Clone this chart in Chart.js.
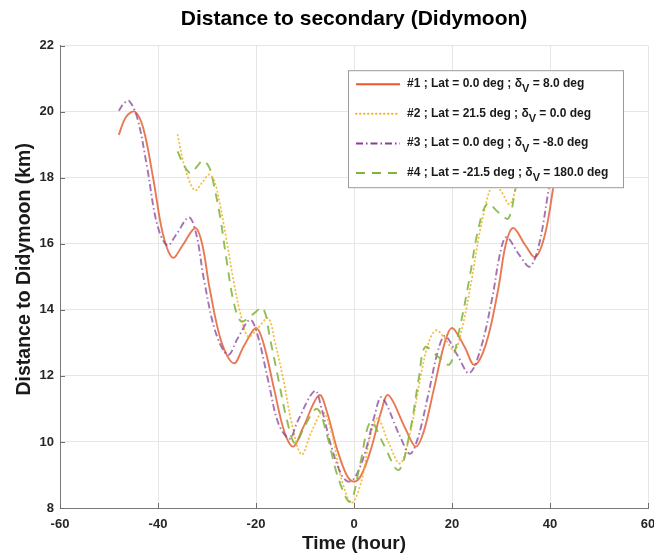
<!DOCTYPE html>
<html><head><meta charset="utf-8">
<script src="https://cdn.jsdelivr.net/npm/chart.js@4.4.1/dist/chart.umd.min.js"></script>
<style>html,body{margin:0;padding:0;background:#fff}#wrap{width:654px;height:555px}</style>
</head><body><div id="wrap"><canvas id="c" width="654" height="555"></canvas></div>
<script>
// ---------- data ----------
const chartTitle = 'Distance to secondary (Didymoon)';
const xAxisTitle = 'Time (hour)';
const yAxisTitle = 'Distance to Didymoon (km)';
const xTickValues = [-60, -40, -20, 0, 20, 40, 60];
const yTickValues = [8, 10, 12, 14, 16, 18, 20, 22];

const seriesNames = ['#1', '#2', '#3', '#4'];
const seriesLat = ['0.0', '21.5', '0.0', '-21.5'];
const seriesDeltaV = ['8.0', '0.0', '-8.0', '180.0'];

// #1 (solid)
const time1 = [-48,-46.5,-44.7,-43,-41,-39,-37,-35,-32.4,-31,-29.4,-27,-24.5,-22.5,-20,-18.5,-16.3,-14.2,-12.4,-10.5,-7.1,-5.5,-3.5,-1.5,0,1.5,3.5,5.5,7,10.5,12.6,14.2,16.3,18.5,20,22.5,24.6,27,29.4,31,32.5,35,37,39,41,43,44.7,46.5,48];
const dist1 = [19.3,19.85,20.0,19.5,18.0,16.3,15.58,15.95,16.48,16.0,14.6,13.0,12.38,12.9,13.45,13.0,11.6,10.3,9.86,10.4,11.42,10.9,9.8,9.0,8.8,9.0,9.8,10.9,11.42,10.4,9.86,10.3,11.6,13.0,13.45,12.9,12.33,13.0,14.6,16.0,16.48,15.95,15.6,16.3,18.0,19.5,20.0,19.85,19.3];

// #2 (dotted)
const time2 = [-36,-34.5,-32.5,-31,-29.6,-28.5,-27.5,-26,-24.6,-23.2,-21.6,-19.6,-17.5,-16.1,-14.4,-12.7,-10.7,-8.7,-6.4,-4.6,-2.6,-0.5,1.5,3.2,4.8,7,9.4,11.5,13.5,15.2,16.8,18.7,20.5,22,24,26,28.4,30,31.8,33.5,35,36];
const dist2 = [19.3,18.3,17.62,17.85,18.1,17.9,17.3,16.1,14.9,13.9,13.19,13.45,13.75,13.0,11.88,10.57,9.62,10.3,10.9,10.3,8.9,8.16,8.8,10.1,10.72,10.0,9.35,10.3,11.9,13.0,13.38,13.1,12.77,13.4,14.9,16.6,17.85,17.6,17.2,18.0,19.0,19.3];

// #3 (dash-dot)
const time3 = [-48,-47,-45.9,-44.2,-42.2,-40.2,-38.1,-36.2,-33.7,-32.2,-30.6,-28.2,-25.7,-23.7,-21.2,-19.7,-17.5,-15.4,-13.1,-11.6,-8.0,-6.6,-4.7,-2.7,-1.2,0.3,2.3,4.2,5.65,9.3,11.4,13,15.1,17.2,18.6,21.2,23.5,25.8,28.2,29.8,31.1,33.8,35.9,37.8,39.8,41.8,43.5,45.3,48];
const dist3 = [20.03,20.25,20.33,19.8,18.3,16.6,15.95,16.3,16.8,16.3,14.9,13.3,12.64,13.15,13.7,13.25,11.85,10.55,10.1,10.6,11.55,11.0,9.9,9.05,8.8,8.95,9.7,10.8,11.35,10.2,9.64,10.1,11.4,12.8,13.21,12.6,12.08,12.8,14.35,15.7,16.2,15.65,15.31,16.0,17.7,19.2,19.7,19.6,18.8];

// #4 (dashed)
const time4 = [-36,-34.6,-33.3,-32,-30.8,-29.5,-28.7,-27.3,-26,-24.5,-23,-20.8,-18.6,-17.1,-15.4,-13.7,-12,-10,-7.5,-5.5,-3.2,-0.8,1.2,3.4,5.8,9.1,11.4,13.3,14.5,17,19.5,21.5,23.5,25.3,27.2,29.5,31.5,33,34.5,36];
const dist4 = [18.8,18.35,18.14,18.35,18.52,18.3,17.85,16.8,15.5,14.2,13.65,13.85,14.05,13.1,11.88,10.67,9.95,10.5,11.0,10.2,8.9,8.19,9.3,10.62,10.0,9.15,10.3,12.0,12.87,12.6,12.35,13.4,14.9,16.4,17.22,16.95,16.77,17.7,18.6,19.0];

// ---------- styling ----------
const FONT = 'Liberation Sans, Arial, Helvetica, sans-serif';
const lineColors = ['rgba(226,88,40,0.8)', 'rgba(240,180,40,0.85)', 'rgba(130,60,150,0.72)', 'rgba(125,180,60,0.85)'];
const legendColors = ['#e8582a', '#f0b428', '#8a3c9a', '#7db43c'];
const lineDashes = [[], [0.5, 3.5], [7, 3, 1.5, 3], [9, 7]];
const lineCaps = ['butt', 'round', 'butt', 'butt'];

const toPoints = (t, v) => t.map((x, i) => ({x: x, y: v[i]}));
const allTimes = [time1, time2, time3, time4];
const allDists = [dist1, dist2, dist3, dist4];

const datasets = allTimes.map((t, i) => ({
  label: seriesNames[i] + ' ; Lat = ' + seriesLat[i] + ' deg ; \u03b4V = ' + seriesDeltaV[i] + ' deg',
  data: toPoints(t, allDists[i]),
  borderColor: lineColors[i],
  borderWidth: 1.9,
  borderDash: lineDashes[i],
  borderCapStyle: lineCaps[i],
  pointRadius: 0,
  fill: false,
  tension: 0.35,
  order: 4 - i
}));

// inward tick marks (MATLAB style)
const innerTicks = {
  id: 'innerTicks',
  afterDatasetsDraw(chart) {
    const {ctx, chartArea: a, scales: {x, y}} = chart;
    ctx.save();
    ctx.strokeStyle = '#6e6e6e';
    ctx.lineWidth = 1;
    ctx.beginPath();
    xTickValues.forEach(v => { const px = Math.round(x.getPixelForValue(v)) + 0.5; ctx.moveTo(px, a.bottom); ctx.lineTo(px, a.bottom - 5); });
    yTickValues.forEach(v => { const py = Math.round(y.getPixelForValue(v)) + 0.5; ctx.moveTo(a.left, py); ctx.lineTo(a.left + 5, py); });
    ctx.stroke();
    ctx.restore();
  }
};

// boxed legend with subscript
const boxLegend = {
  id: 'boxLegend',
  afterDraw(chart) {
    const {ctx, chartArea: a} = chart;
    const bx = a.right - 300, by = a.top + 24.5, bw = 276, bh = 118;
    ctx.save();
    ctx.fillStyle = '#ffffff';
    ctx.fillRect(bx, by, bw, bh);
    ctx.strokeStyle = '#9a9a9a';
    ctx.lineWidth = 1;
    ctx.strokeRect(bx + 0.5, by + 0.5, bw - 1, bh - 1);
    for (let i = 0; i < 4; i++) {
      const ly = by + 14 + i * 29.6;
      ctx.strokeStyle = legendColors[i];
      ctx.lineWidth = 2;
      ctx.setLineDash(lineDashes[i]);
      ctx.lineCap = lineCaps[i];
      ctx.beginPath(); ctx.moveTo(bx + 8, ly); ctx.lineTo(bx + 52, ly); ctx.stroke();
      ctx.setLineDash([]);
      ctx.lineCap = 'butt';
      ctx.fillStyle = '#1a1a1a';
      ctx.textBaseline = 'alphabetic';
      ctx.textAlign = 'left';
      const base = ly + 2.7;
      let tx = bx + 59;
      const part1 = seriesNames[i] + ' ; Lat = ' + seriesLat[i] + ' deg ; \u03b4';
      const part3 = ' = ' + seriesDeltaV[i] + ' deg';
      ctx.font = 'bold 12px ' + FONT;
      ctx.fillText(part1, tx, base); tx += ctx.measureText(part1).width;
      ctx.font = 'bold 11px ' + FONT;
      ctx.fillText('V', tx, base + 5.5); tx += ctx.measureText('V').width;
      ctx.font = 'bold 12px ' + FONT;
      ctx.fillText(part3, tx, base);
    }
    ctx.restore();
  }
};

new Chart(document.getElementById('c'), {
  type: 'line',
  data: {datasets: datasets},
  options: {
    responsive: false,
    animation: false,
    devicePixelRatio: 1,
    layout: {padding: {left: 0, right: 6, top: 0, bottom: 0}},
    plugins: {
      legend: {display: false},
      tooltip: {enabled: false},
      title: {
        display: true, text: chartTitle, fullSize: false, color: '#000',
        font: {family: FONT, size: 21, weight: 'bold', lineHeight: 1.2},
        padding: {top: 7, bottom: 13.5}
      }
    },
    scales: {
      x: {
        type: 'linear', min: -60, max: 60,
        afterBuildTicks: s => { s.ticks = xTickValues.map(v => ({value: v})); },
        afterFit: s => { s.height = 47; s.paddingLeft = 0; s.paddingRight = 0; },
        ticks: {font: {family: FONT, size: 13, weight: 'bold'}, color: '#262626', padding: 9, maxRotation: 0, autoSkip: false},
        grid: {color: '#e6e6e6', drawTicks: false},
        border: {display: true, color: '#7a7a7a', width: 1},
        title: {display: true, text: xAxisTitle, color: '#1a1a1a', font: {family: FONT, size: 19, weight: 'bold', lineHeight: 1}, padding: {top: 0, bottom: 2}}
      },
      y: {
        type: 'linear', min: 8, max: 22,
        afterBuildTicks: s => { s.ticks = yTickValues.map(v => ({value: v})); },
        afterFit: s => { s.width = 60; s.paddingTop = 0; s.paddingBottom = 0; },
        ticks: {font: {family: FONT, size: 13, weight: 'bold'}, color: '#262626', padding: 6},
        grid: {color: '#e6e6e6', drawTicks: false},
        border: {display: true, color: '#7a7a7a', width: 1},
        title: {display: true, text: '\u2002\u00a0' + yAxisTitle, color: '#1a1a1a', font: {family: FONT, size: 19.5, weight: 'bold', lineHeight: 1}, padding: {top: 14.5, bottom: 0}}
      }
    }
  },
  plugins: [innerTicks, boxLegend]
});
</script>
</body></html>
